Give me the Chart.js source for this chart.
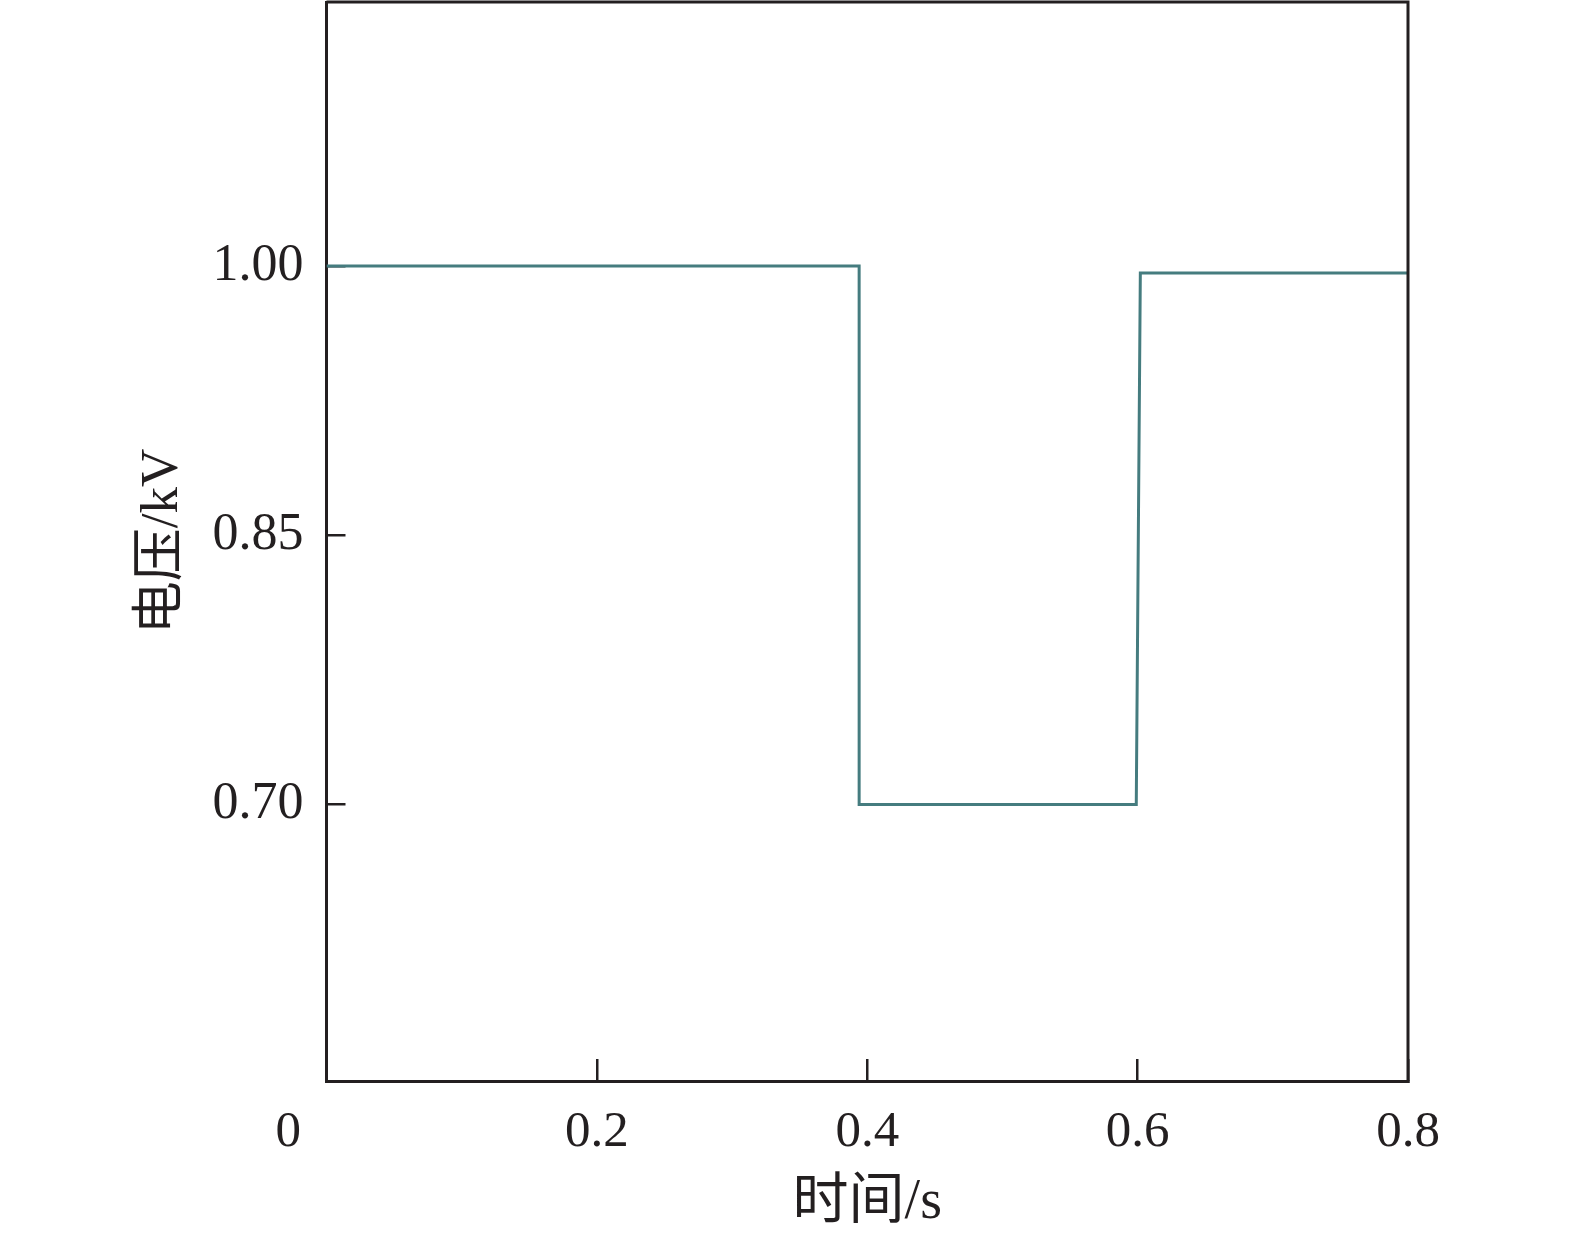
<!DOCTYPE html>
<html>
<head>
<meta charset="utf-8">
<script src="https://cdn.jsdelivr.net/npm/chart.js@4/dist/chart.umd.min.js"></script>
<style>
  html, body { margin: 0; padding: 0; background: #fff; }
  #wrap { width: 1575px; height: 1237px; position: relative; }
</style>
</head>
<body>
<div id="wrap"><canvas id="chart"></canvas></div>
<script>
// --- Data ---
const timeValues = [0, 0.394, 0.394, 0.599, 0.602, 0.8];
const voltageValues = [1.0, 1.0, 0.70, 0.70, 0.996, 0.996];

const xTickValues = [0, 0.2, 0.4, 0.6, 0.8];
const xTickLabels = ["0", "0.2", "0.4", "0.6", "0.8"];
const yTickValues = [0.70, 0.85, 1.00];
const yTickLabels = ["0.70", "0.85", "1.00"];

const xTitle = "时间/s";
const yTitle = "电压/kV";

const INK = "#231f20";
const LINE = "#457c7f";
const FONT = "'Liberation Serif', 'Noto Sans CJK SC', serif";

// frame on top and right of the plot area
const framePlugin = {
    id: "frame",
    afterDraw(chart) {
        const { ctx, chartArea: a } = chart;
        ctx.save();
        ctx.strokeStyle = INK;
        ctx.lineWidth = 3;
        ctx.beginPath();
        ctx.moveTo(a.left, a.top);
        ctx.lineTo(a.right, a.top);
        ctx.lineTo(a.right, a.bottom);
        ctx.stroke();
        ctx.restore();
    }
};

const points = timeValues.map((t, i) => ({ x: t, y: voltageValues[i] }));

new Chart(document.getElementById("chart"), {
    type: "line",
    data: {
        datasets: [
            {
                data: points,
                borderColor: LINE,
                borderWidth: 3,
                pointRadius: 0,
                tension: 0,
                fill: false
            }
        ]
    },
    options: {
        responsive: true,
        maintainAspectRatio: false,
        animation: false,
        devicePixelRatio: 1,
        layout: { padding: { top: 2, right: 167, bottom: 0, left: 0 } },
        plugins: {
            legend: { display: false },
            tooltip: { enabled: false }
        },
        scales: {
            x: {
                type: "linear",
                min: 0,
                max: 0.8,
                afterBuildTicks: (scale) => {
                    scale.ticks = xTickValues.map(v => ({ value: v }));
                },
                afterFit: (scale) => {
                    scale.height = 156;
                    scale.paddingLeft = 0;
                    scale.paddingRight = 0;
                },
                grid: {
                    drawOnChartArea: false,
                    tickLength: -22,
                    color: INK,
                    lineWidth: 2.5
                },
                border: { display: true, color: INK, width: 3 },
                ticks: {
                    padding: 43,
                    color: INK,
                    font: { family: FONT, size: 51 },
                    maxRotation: 0,
                    callback: (v) => {
                        const i = xTickValues.findIndex(t => Math.abs(t - v) < 1e-9);
                        if (i < 0) return "";
                        // the origin label sits left of the axis corner
                        return i === 0 ? xTickLabels[i] + "\u2003\u2002" : xTickLabels[i];
                    }
                },
                title: {
                    display: true,
                    text: xTitle,
                    color: INK,
                    font: { family: FONT, size: 56 },
                    padding: { top: 0, bottom: 0 }
                }
            },
            y: {
                type: "linear",
                min: 0.546,
                max: 1.147,
                afterBuildTicks: (scale) => {
                    scale.ticks = yTickValues.map(v => ({ value: v }));
                },
                afterFit: (scale) => {
                    scale.width = 326.5;
                    scale.paddingTop = 0;
                    scale.paddingBottom = 0;
                },
                grid: {
                    drawOnChartArea: false,
                    tickLength: -19,
                    color: INK,
                    lineWidth: 2.5
                },
                border: { display: true, color: INK, width: 3 },
                ticks: {
                    padding: 42,
                    color: INK,
                    font: { family: FONT, size: 52 },
                    callback: (v) => {
                        const i = yTickValues.findIndex(t => Math.abs(t - v) < 1e-9);
                        return i < 0 ? "" : yTickLabels[i];
                    }
                },
                title: {
                    display: true,
                    text: yTitle,
                    color: INK,
                    font: { family: FONT, size: 53 },
                    padding: { top: 131, bottom: 0 }
                }
            }
        }
    },
    plugins: [framePlugin]
});
</script>
</body>
</html>
